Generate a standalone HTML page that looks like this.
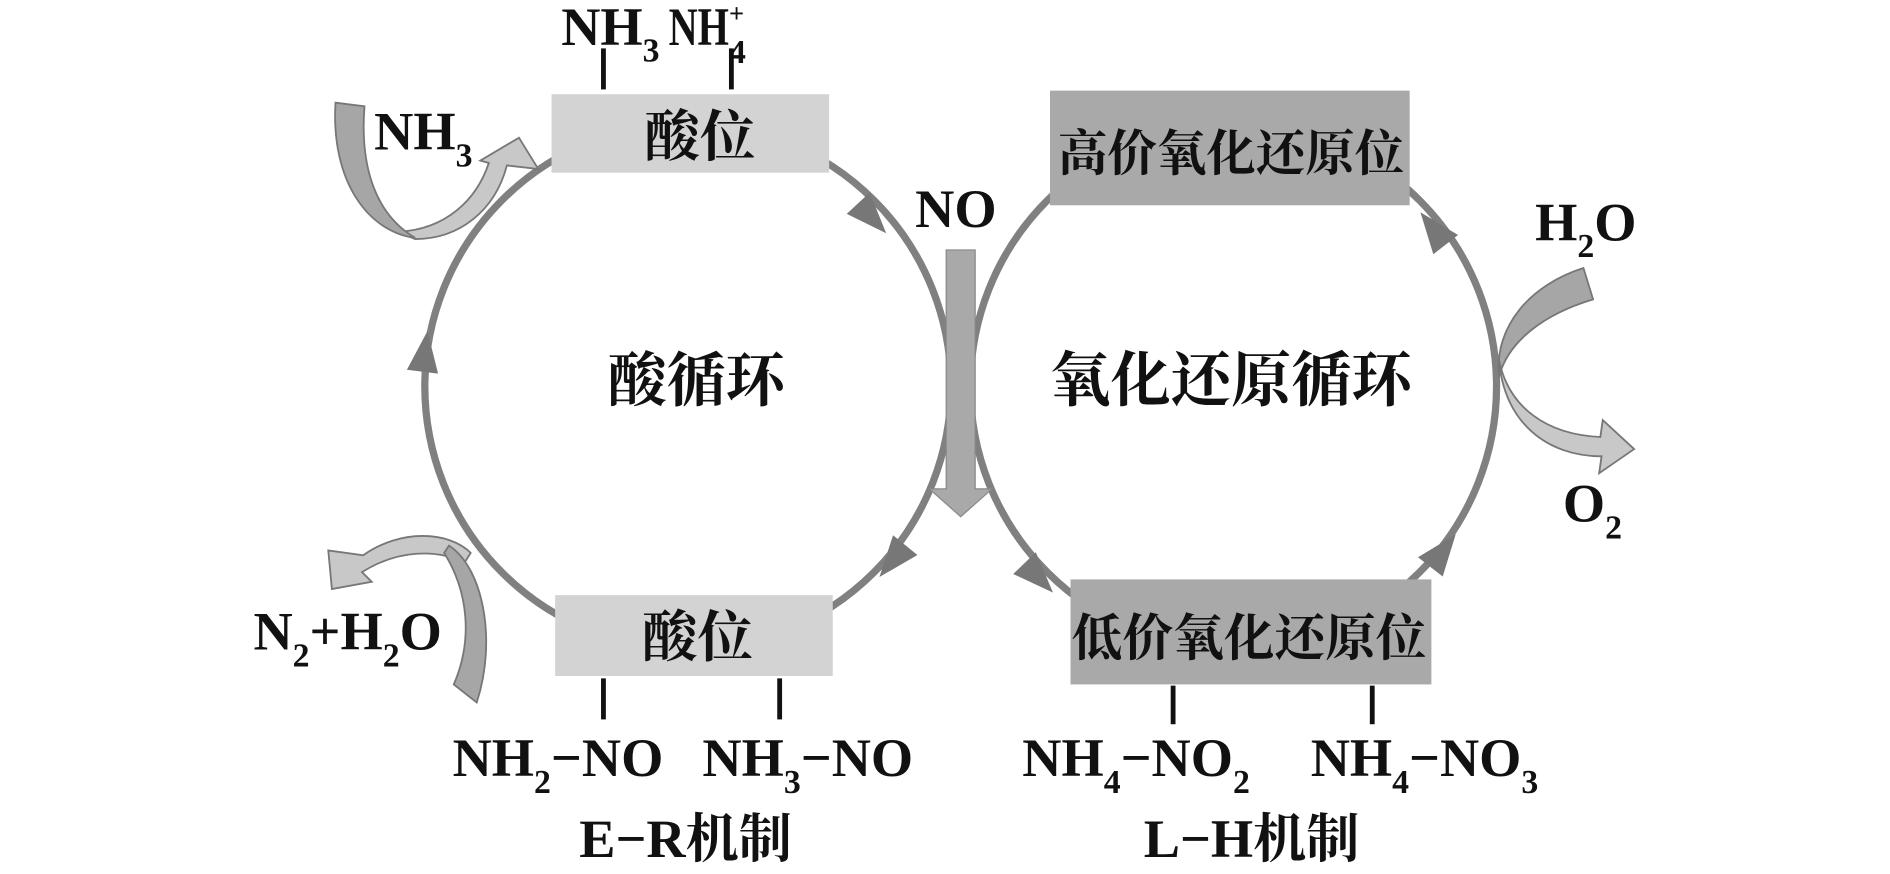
<!DOCTYPE html>
<html><head><meta charset="utf-8"><style>
html,body{margin:0;padding:0;background:#fff;}
svg{display:block;}
text{font-family:"Liberation Serif","Noto Serif CJK SC",serif;font-weight:bold;fill:#111;}
.cn{font-family:"Noto Serif CJK SC","Liberation Serif",serif;font-weight:bold;}
</style></head><body>
<svg width="1890" height="874" viewBox="0 0 1566 724" xmlns="http://www.w3.org/2000/svg">
<rect width="1566" height="724" fill="#fff"/>
<circle cx="570" cy="320" r="218" fill="none" stroke="#808080" stroke-width="6"/>
<circle cx="1022" cy="320" r="218" fill="none" stroke="#808080" stroke-width="6"/>
<g fill="#777">
<polygon points="18,0 -16,-13 -16,13" transform="translate(722,180) rotate(47)"/>
<polygon points="18,0 -16,-13 -16,13" transform="translate(352,292) rotate(-83)"/>
<polygon points="18,0 -16,-13 -16,13" transform="translate(740,464) rotate(129)"/>
<polygon points="18,0 -16,-13 -16,13" transform="translate(1188,190) rotate(-128)"/>
<polygon points="18,0 -16,-13 -16,13" transform="translate(1195,457) rotate(-52)"/>
<polygon points="18,0 -16,-13 -16,13" transform="translate(860,478) rotate(46)"/>
</g>
<rect x="457" y="78" width="230" height="65" fill="#d3d3d3"/>
<rect x="460" y="493" width="230" height="67" fill="#d3d3d3"/>
<rect x="870" y="75" width="298" height="95" fill="#a9a9a9"/>
<rect x="887" y="480" width="299" height="87" fill="#a9a9a9"/>
<text class="cn" x="580" y="129" font-size="46" text-anchor="middle">酸位</text>
<text class="cn" x="578" y="544" font-size="46" text-anchor="middle">酸位</text>
<text class="cn" x="1020" y="141" font-size="41" text-anchor="middle">高价氧化还原位</text>
<text class="cn" x="1035" y="543" font-size="42" text-anchor="middle">低价氧化还原位</text>
<g stroke="#111" stroke-width="4">
<line x1="500" y1="40" x2="500" y2="74"/><line x1="606" y1="40" x2="606" y2="74"/>
<line x1="500" y1="562" x2="500" y2="596"/><line x1="646" y1="562" x2="646" y2="596"/>
<line x1="972" y1="568" x2="972" y2="600"/><line x1="1137" y1="568" x2="1137" y2="600"/>
</g>
<text class="cn" x="577" y="332" font-size="49" text-anchor="middle">酸循环</text>
<text class="cn" x="1020" y="332" font-size="50" text-anchor="middle">氧化还原循环</text>
<polygon points="784,207 808,207 808,405 822,405 796,428 770,405 784,405" fill="#a9a9a9" stroke="#888" stroke-width="1"/>
<text x="792" y="188" font-size="45" text-anchor="middle">NO</text>
<path d="M330,192 C370,190 395,165 405,135 L398,133 L430,114 L446,140 L420,137 C410,175 380,198 344,198 Z" fill="#c8c8c8" stroke="#777" stroke-width="1.5"/>
<path d="M278,85 L302,88 C298,140 312,178 344,197 C305,192 274,150 278,85 Z" fill="#a6a6a6" stroke="#777" stroke-width="1.5"/>
<path d="M1312,222 L1320,248 C1280,260 1250,282 1242,312 C1238,270 1268,236 1312,222 Z" fill="#a6a6a6" stroke="#777" stroke-width="1.5"/>
<path d="M1242,298 C1250,338 1282,360 1326,362 L1328,348 L1354,372 L1325,392 L1327,378 C1282,378 1246,350 1242,298 Z" fill="#c8c8c8" stroke="#777" stroke-width="1.5"/>
<path d="M390,458 C372,440 332,438 301,460 L272,456 L275,488 L308,482 L300,474 C330,455 362,455 385,466 Z" fill="#c8c8c8" stroke="#777" stroke-width="1.5"/>
<path d="M372,452 C400,470 412,530 395,582 L376,567 C392,530 388,490 368,458 Z" fill="#a6a6a6" stroke="#777" stroke-width="1.5"/>
<text x="465" y="37" font-size="45">NH<tspan font-size="28" dy="14">3</tspan></text>
<text x="554" y="37" font-size="45" textLength="50" lengthAdjust="spacingAndGlyphs">NH</text>
<text x="604" y="18" font-size="22">+</text>
<text x="604" y="52" font-size="28">4</text>
<text x="310" y="124" font-size="45">NH<tspan font-size="28" dy="14">3</tspan></text>
<text x="1272" y="199" font-size="45">H<tspan font-size="28" dy="14">2</tspan><tspan dy="-14">O</tspan></text>
<text x="1295" y="432" font-size="45">O<tspan font-size="28" dy="14">2</tspan></text>
<text x="210" y="538" font-size="45">N<tspan font-size="28" dy="14">2</tspan><tspan dy="-14">+H</tspan><tspan font-size="28" dy="14">2</tspan><tspan dy="-14">O</tspan></text>
<text x="375" y="643" font-size="45">NH<tspan font-size="28" dy="14">2</tspan><tspan dy="-14">−NO</tspan></text>
<text x="582" y="643" font-size="45">NH<tspan font-size="28" dy="14">3</tspan><tspan dy="-14">−NO</tspan></text>
<text x="847" y="643" font-size="45">NH<tspan font-size="28" dy="14">4</tspan><tspan dy="-14">−NO</tspan><tspan font-size="28" dy="14">2</tspan></text>
<text x="1086" y="643" font-size="45">NH<tspan font-size="28" dy="14">4</tspan><tspan dy="-14">−NO</tspan><tspan font-size="28" dy="14">3</tspan></text>
<text x="568" y="710" font-size="45" text-anchor="middle">E−R<tspan class="cn" font-size="44">机制</tspan></text>
<text x="1037" y="710" font-size="45" text-anchor="middle">L−H<tspan class="cn" font-size="44">机制</tspan></text>
</svg>
</body></html>
